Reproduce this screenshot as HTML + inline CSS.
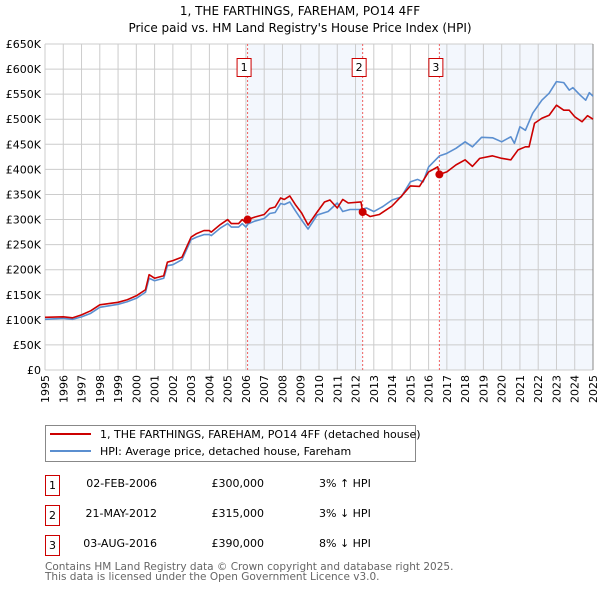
<!DOCTYPE html>
<html><head><meta charset="utf-8"><style>
body{margin:0;background:#fff;font-family:"DejaVu Sans","Liberation Sans",sans-serif;}
svg text{font-family:"DejaVu Sans","Liberation Sans",sans-serif;}
</style></head><body>
<svg id="chart" width="600" height="590" xmlns="http://www.w3.org/2000/svg">
<text x="300" y="15" text-anchor="middle" font-size="12">1, THE FARTHINGS, FAREHAM, PO14 4FF</text>
<text x="300" y="32" text-anchor="middle" font-size="12">Price paid vs. HM Land Registry's House Price Index (HPI)</text>
<g id="plot"></g>
<g>
<rect x="45.5" y="425.5" width="370" height="36" fill="#fff" stroke="#888"/>
<line x1="50" y1="434" x2="91" y2="434" stroke="#cc0000" stroke-width="2"/>
<text x="100" y="438" font-size="11">1, THE FARTHINGS, FAREHAM, PO14 4FF (detached house)</text>
<line x1="50" y1="451" x2="91" y2="451" stroke="#5b8fd0" stroke-width="2"/>
<text x="100" y="455" font-size="11">HPI: Average price, detached house, Fareham</text>
</g>
<g font-size="11">
<rect x="45.5" y="475.5" width="14" height="20" fill="#fff" stroke="#cc0000"/><text x="52.5" y="489" text-anchor="middle">1</text>
<text x="157" y="487" text-anchor="end">02-FEB-2006</text><text x="264" y="487" text-anchor="end">£300,000</text><text x="319" y="487">3% ↑ HPI</text>
<rect x="45.5" y="505.5" width="14" height="20" fill="#fff" stroke="#cc0000"/><text x="52.5" y="519" text-anchor="middle">2</text>
<text x="157" y="517" text-anchor="end">21-MAY-2012</text><text x="264" y="517" text-anchor="end">£315,000</text><text x="319" y="517">3% ↓ HPI</text>
<rect x="45.5" y="535.5" width="14" height="20" fill="#fff" stroke="#cc0000"/><text x="52.5" y="549" text-anchor="middle">3</text>
<text x="157" y="547" text-anchor="end">03-AUG-2016</text><text x="264" y="547" text-anchor="end">£390,000</text><text x="319" y="547">8% ↓ HPI</text>
</g>
<text x="45" y="570" font-size="10.5" fill="#666">Contains HM Land Registry data © Crown copyright and database right 2025.</text>
<text x="45" y="580" font-size="10.5" fill="#666">This data is licensed under the Open Government Licence v3.0.</text>
</svg>
<script>
const yTicks=[0,50,100,150,200,250,300,350,400,450,500,550,600,650];
const yTickLabels=["£0","£50K","£100K","£150K","£200K","£250K","£300K","£350K","£400K","£450K","£500K","£550K","£600K","£650K"];
const xYears=[1995,1996,1997,1998,1999,2000,2001,2002,2003,2004,2005,2006,2007,2008,2009,2010,2011,2012,2013,2014,2015,2016,2017,2018,2019,2020,2021,2022,2023,2024,2025];
const saleDates=[2006.09,2012.39,2016.59];
const salePrices=[300,315,390];
const saleLabels=["1","2","3"];
const redT=[1995,1996,1996.5,1997,1997.5,1998,1999,1999.5,2000,2000.5,2000.7,2001,2001.5,2001.7,2002,2002.5,2003,2003.3,2003.7,2004,2004.1,2004.6,2005,2005.2,2005.6,2005.8,2006,2006.09,2006.5,2007,2007.3,2007.6,2007.9,2008.1,2008.4,2008.7,2009.05,2009.4,2009.9,2010.3,2010.6,2011,2011.3,2011.6,2012.3,2012.39,2012.8,2013.3,2014,2014.5,2015,2015.5,2016,2016.5,2016.59,2017,2017.5,2018,2018.4,2018.8,2019.5,2020,2020.5,2020.9,2021.3,2021.5,2021.8,2022.2,2022.6,2023,2023.4,2023.7,2024,2024.4,2024.7,2025];
const redV=[105,106,104,110,118,130,135,140,148,160,190,183,188,215,218,225,265,272,278,278,275,290,300,292,292,300,293,300,305,310,322,325,343,340,347,330,313,289,315,335,339,323,340,333,335,315,306,310,327,346,367,366,395,405,390,395,409,419,406,422,427,422,419,439,445,445,492,502,508,528,518,518,505,495,507,500];
const blueT=[1995,1996,1996.5,1997,1997.5,1998,1999,1999.5,2000,2000.5,2000.7,2001,2001.5,2001.7,2002,2002.5,2003,2003.3,2003.7,2004,2004.1,2004.6,2005,2005.2,2005.6,2005.8,2006,2006.1,2006.5,2007,2007.3,2007.6,2007.9,2008.1,2008.4,2008.7,2009.05,2009.4,2009.9,2010.5,2011,2011.3,2011.7,2012.3,2012.6,2013,2013.5,2014,2014.5,2015,2015.4,2015.7,2016,2016.6,2017,2017.5,2018,2018.4,2018.9,2019.5,2020,2020.5,2020.7,2021,2021.3,2021.7,2022.2,2022.6,2023,2023.4,2023.7,2023.9,2024.3,2024.6,2024.8,2025];
const blueV=[101,103,101,106,113,125,131,136,143,155,183,178,183,208,210,220,260,265,270,270,268,283,292,285,285,292,285,291,297,302,312,314,332,330,335,318,299,281,309,316,333,316,320,320,323,316,326,339,345,375,380,375,405,427,432,442,455,445,464,463,455,465,452,485,478,512,538,552,575,573,558,563,548,538,553,546];
const NS="http://www.w3.org/2000/svg";
const L=45,R=593,T=44,B=370;
const xs=t=>L+(t-1995)/30*(R-L);
const ys=v=>B-v/650*(B-T);
const g=document.getElementById('plot');
function mk(tag,attrs){const e=document.createElementNS(NS,tag);for(const k in attrs)e.setAttribute(k,attrs[k]);g.appendChild(e);return e;}
// shading
let s1=mk('rect',{x:xs(saleDates[0]),y:T,width:xs(saleDates[1])-xs(saleDates[0]),height:B-T,fill:'#eef3fc',opacity:0.7});


let s2=mk('rect',{x:xs(saleDates[2]),y:T,width:R-xs(saleDates[2]),height:B-T,fill:'#eef3fc',opacity:0.7});


yTicks.forEach((v,i)=>{
 let l=mk('line',{x1:L,x2:R,y1:ys(v),y2:ys(v),stroke:'#cccccc','stroke-width':1});
 
 
 let t=mk('text',{x:L-4,y:ys(v)+4,'text-anchor':'end','font-size':11});
 
 
 t.textContent=yTickLabels[i];
});
xYears.forEach(yr=>{
 let l=mk('line',{x1:xs(yr),x2:xs(yr),y1:T,y2:B,stroke:'#cccccc','stroke-width':1});
 
 
 let t=mk('text',{x:0,y:0,'text-anchor':'end','font-size':11,transform:`translate(${xs(yr)+4},${B+5}) rotate(-90)`});
 
 
 t.textContent=yr;
});
let ax=mk('line',{x1:R,x2:R,y1:T,y2:B,stroke:'#888','stroke-width':1});


saleDates.forEach((d,i)=>{
 let l=mk('line',{x1:xs(d),x2:xs(d),y1:T,y2:B,stroke:'#f06060','stroke-width':1,'stroke-dasharray':'2,2'});
 
 
});
function line(ts,vs,col,name){
 let p=mk('polyline',{points:ts.map((t,i)=>xs(t)+','+ys(vs[i])).join(' '),fill:'none',stroke:col,'stroke-width':1.6,'stroke-linejoin':'round'});
 
 
}
line(blueT,blueV,'#5b8fd0','hpi-line');
line(redT,redV,'#cc0000','price-paid-line');
saleDates.forEach((d,i)=>{
 let c=mk('circle',{cx:xs(d),cy:ys(salePrices[i]),r:4,fill:'#cc0000'});
 
 
 let r=mk('rect',{x:xs(d)-10.5,y:58.5,width:14,height:18,fill:'#fff',stroke:'#cc0000'});
 
 
 let t=mk('text',{x:xs(d)-3.5,y:71,'text-anchor':'middle','font-size':11});
 
 
 t.textContent=saleLabels[i];
});
</script>
</body></html>
